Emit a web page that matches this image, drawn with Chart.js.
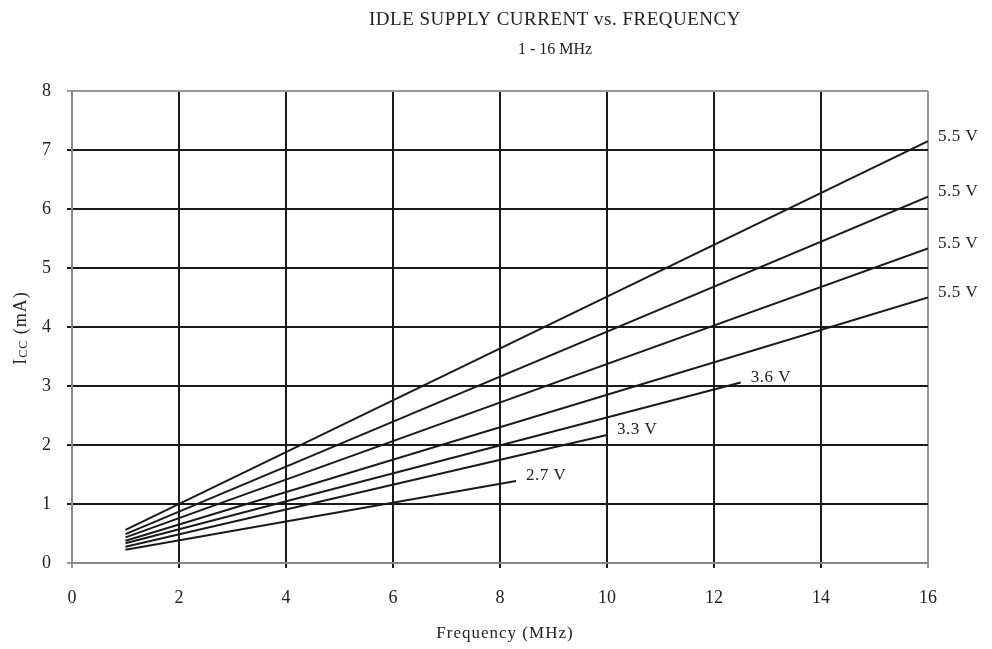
<!DOCTYPE html>
<html>
<head>
<meta charset="utf-8">
<script src="https://cdn.jsdelivr.net/npm/chart.js@4"></script>
<style>
  html, body { margin: 0; padding: 0; background: #fff; }
  #wrap { width: 992px; height: 649px; }
</style>
</head>
<body>
<div id="wrap"><canvas id="myChart" width="992" height="649"></canvas></div>
<script>
// supply voltage of each curve (label at the line end)
var voltLabels = ['5.5 V', '5.5 V', '5.5 V', '5.5 V', '3.6 V', '3.3 V', '2.7 V'];
// frequency range of each curve (MHz)
var freqStart = [1, 1, 1, 1, 1, 1, 1];
var freqEnd = [16, 16, 16, 16, 12.5, 10, 8.3];
// Icc at start / end of each curve (mA)
var iccStart = [0.56, 0.49, 0.435, 0.378, 0.334, 0.276, 0.225];
var iccEnd = [7.15, 6.21, 5.33, 4.50, 3.06, 2.17, 1.39];
var xTicks = [0, 2, 4, 6, 8, 10, 12, 14, 16];
var yTicks = [0, 1, 2, 3, 4, 5, 6, 7, 8];

var serif = '"Liberation Serif", "Times New Roman", serif';

var datasets = voltLabels.map(function (v, i) {
    return {
        label: v,
        data: [{ x: freqStart[i], y: iccStart[i] }, { x: freqEnd[i], y: iccEnd[i] }],
        borderColor: '#1a1a1a',
        borderWidth: 2,
        pointRadius: 0,
        fill: false
    };
});

// titles, axis captions and curve labels
var textPlugin = {
    id: 'texts',
    afterDraw: function (chart) {
        var c = chart.ctx, xs = chart.scales.x, ys = chart.scales.y;
        c.save();
        c.fillStyle = '#222';
        c.textBaseline = 'middle';
        c.textAlign = 'center';
        c.font = '19px ' + serif;
        c.letterSpacing = '0.5px';
        c.fillText('IDLE SUPPLY CURRENT vs. FREQUENCY', 555, 20);
        c.font = '16px ' + serif;
        c.letterSpacing = '0px';
        c.fillText('1 - 16 MHz', 555, 50);
        c.font = '17px ' + serif;
        c.letterSpacing = '1px';
        c.fillText('Frequency (MHz)', 505, 634);

        // y axis caption with subscript
        c.save();
        c.translate(21, 328);
        c.rotate(-Math.PI / 2);
        var p1 = 'I', p2 = 'CC', p3 = ' (mA)';
        c.font = '18px ' + serif;
        var w1 = c.measureText(p1).width, w3 = c.measureText(p3).width;
        c.font = '12px ' + serif;
        var w2 = c.measureText(p2).width;
        var x0 = -(w1 + w2 + w3) / 2;
        c.textAlign = 'left';
        c.font = '18px ' + serif;
        c.fillText(p1, x0, 0);
        c.font = '12px ' + serif;
        c.fillText(p2, x0 + w1, 3);
        c.font = '18px ' + serif;
        c.fillText(p3, x0 + w1 + w2, 0);
        c.restore();

        // curve labels
        c.textAlign = 'left';
        c.letterSpacing = '0.5px';
        c.font = '17px ' + serif;
        voltLabels.forEach(function (v, i) {
            var px = xs.getPixelForValue(freqEnd[i]);
            var py = ys.getPixelForValue(iccEnd[i]);
            c.fillText(v, px + 10, py - 5);
        });
        c.restore();
    }
};

function gridColor(edgeA, edgeB) {
    return function (ctx) {
        var v = ctx.tick ? ctx.tick.value : null;
        return (v === edgeA || v === edgeB) ? '#999' : '#1a1a1a';
    };
}

var ctx = document.getElementById('myChart').getContext('2d');
var myChart = new Chart(ctx, {
    type: 'line',
    data: { datasets: datasets },
    options: {
        responsive: false,
        animation: false,
        layout: { padding: { top: 91, right: 64, left: 0, bottom: 0 } },
        plugins: { legend: { display: false }, tooltip: { enabled: false } },
        scales: {
            x: {
                type: 'linear',
                min: 0, max: 16,
                afterBuildTicks: function (s) { s.ticks = xTicks.map(function (v) { return { value: v }; }); },
                afterFit: function (s) { s.height = 86; },
                grid: { color: gridColor(0, 16), lineWidth: 2, tickLength: 5 },
                border: { color: '#888', width: 2 },
                ticks: { color: '#222', font: { family: serif, size: 18 }, padding: 19, maxRotation: 0 }
            },
            y: {
                min: 0, max: 8,
                afterBuildTicks: function (s) { s.ticks = yTicks.map(function (v) { return { value: v }; }); },
                afterFit: function (s) { s.width = 72; },
                grid: { color: gridColor(0, 8), lineWidth: 2, tickLength: 5 },
                border: { color: '#888', width: 2 },
                ticks: { color: '#222', font: { family: serif, size: 18 }, padding: 16 }
            }
        }
    },
    plugins: [textPlugin]
});
</script>
</body>
</html>
